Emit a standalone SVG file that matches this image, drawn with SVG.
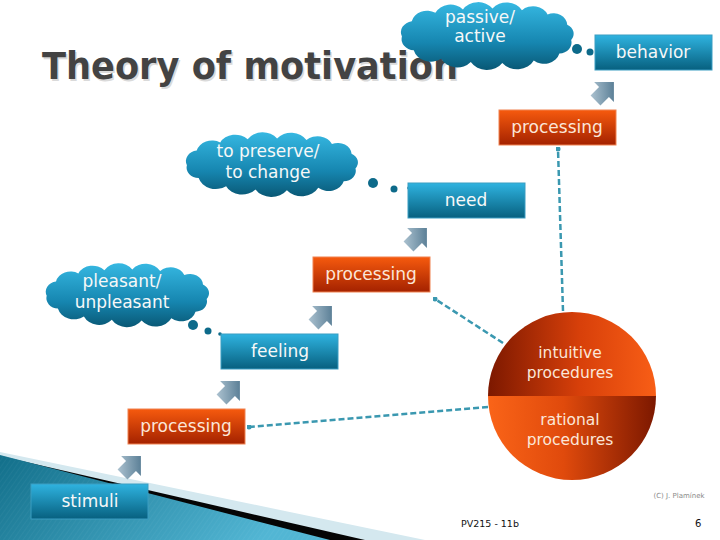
<svg xmlns="http://www.w3.org/2000/svg" width="720" height="540" viewBox="0 0 720 540">
<defs>
<linearGradient id="gBlue" x1="0" y1="0" x2="0" y2="1"><stop offset="0" stop-color="#2fb3e0"/><stop offset="1" stop-color="#07607f"/></linearGradient>
<linearGradient id="gOrange" x1="0" y1="0" x2="0" y2="1"><stop offset="0" stop-color="#f65a0e"/><stop offset="1" stop-color="#a42200"/></linearGradient>
<linearGradient id="gCloud" x1="0" y1="0" x2="0" y2="1"><stop offset="0" stop-color="#36b8e2"/><stop offset="0.6" stop-color="#1686b0"/><stop offset="1" stop-color="#095875"/></linearGradient>
<linearGradient id="gArrow" x1="0" y1="1" x2="1" y2="0"><stop offset="0" stop-color="#bccfdb"/><stop offset="1" stop-color="#3b6580"/></linearGradient>
<linearGradient id="gTop" x1="0" y1="0" x2="1" y2="0"><stop offset="0" stop-color="#7c1800"/><stop offset="0.55" stop-color="#d8400a"/><stop offset="1" stop-color="#f85e16"/></linearGradient>
<linearGradient id="gBot" x1="0" y1="0" x2="1" y2="0"><stop offset="0" stop-color="#fa6418"/><stop offset="0.45" stop-color="#e04a0c"/><stop offset="1" stop-color="#7c1800"/></linearGradient>
<linearGradient id="gBg" x1="0" y1="0" x2="1" y2="0.3"><stop offset="0" stop-color="#126f8a"/><stop offset="1" stop-color="#52b6d4"/></linearGradient>
<pattern id="stripes" width="4" height="4" patternUnits="userSpaceOnUse" patternTransform="rotate(35)"><line x1="0" y1="0" x2="0" y2="4" stroke="#ffffff" stroke-opacity="0.07" stroke-width="1"/></pattern>
<path id="cloud" d="M4,36 A13,13 0 0 1 14,18 A16,16 0 0 1 38,8 A17,17 0 0 1 66,4 A18,18 0 0 1 96,3 A18,18 0 0 1 126,5 A16,16 0 0 1 152,10 A14,14 0 0 1 172,22 A12,12 0 0 1 176,40 A13,13 0 0 1 164,56 A16,16 0 0 1 138,64 A19,19 0 0 1 106,67 A19,19 0 0 1 74,66 A18,18 0 0 1 44,62 A18,18 0 0 1 16,52 A13,13 0 0 1 4,36 Z"/>
<path id="arrow" d="M0,-14 L14,0 L7,0 L7,12 L-7,12 L-7,0 L-14,0 Z"/>
<marker id="dot" viewBox="0 0 6 6" refX="3" refY="3" markerWidth="5" markerHeight="5" markerUnits="userSpaceOnUse"><circle cx="3" cy="3" r="3" fill="#3a98b0"/></marker>
<style>
.box{stroke-width:1}
.blue{fill:url(#gBlue);stroke:#3b9dc2}
.orange{fill:url(#gOrange);stroke:#f08250}
.lbl{font-family:"DejaVu Sans",Verdana,sans-serif;font-size:17px;fill:#f6f8f8;text-anchor:middle}
.olbl{font-family:"DejaVu Sans",Verdana,sans-serif;font-size:17px;fill:#fbe6d8;text-anchor:middle}
.clbl{font-family:"DejaVu Sans",Verdana,sans-serif;font-size:15.5px;fill:#fbe6d8;text-anchor:middle}
.cloud{fill:url(#gCloud)}
.tdot{fill:#0d6a8a}
.arr{fill:url(#gArrow)}
.dash{fill:none;stroke:#3a98b0;stroke-width:2.5;stroke-dasharray:6 3;marker-end:url(#dot)}
.foot{font-family:"DejaVu Sans",Verdana,sans-serif;fill:#111}
</style>
</defs>
<rect width="720" height="540" fill="#ffffff"/>
<g id="background">
<polygon points="0,452 425,540 0,540" fill="#d4e8ef"/>
<polygon points="0,456 365,540 0,540" fill="#050505"/>
<polygon points="0,455 330,540 0,540" fill="url(#gBg)"/>
<polygon points="0,455 330,540 0,540" fill="url(#stripes)"/>
</g>
<g id="title">
<text x="43.5" y="80.5" font-family="'DejaVu Sans',Verdana,sans-serif" font-weight="bold" font-size="37" fill="#dadada" textLength="416" lengthAdjust="spacingAndGlyphs">Theory of motivation</text>
<text x="42" y="79" font-family="'DejaVu Sans',Verdana,sans-serif" font-weight="bold" font-size="37" fill="#434343" textLength="416" lengthAdjust="spacingAndGlyphs">Theory of motivation</text>
</g>
<g id="connectors">
<line class="dash" x1="563" y1="311" x2="558" y2="149"/>
<line class="dash" x1="503" y1="343" x2="435" y2="299"/>
<line class="dash" x1="488" y1="407" x2="249" y2="427"/>
</g>
<g id="cloud-passive">
<use href="#cloud" class="cloud" transform="translate(398,6) scale(0.984,0.85)"/>
<circle class="tdot" cx="577" cy="49" r="5"/><circle class="tdot" cx="590" cy="52" r="3.5"/><circle class="tdot" cx="597" cy="52" r="1.8"/>
<text class="lbl" x="480" y="23">passive/</text>
<text class="lbl" x="480" y="42">active</text>
</g>
<g id="behavior">
<rect class="box blue" x="595" y="35" width="117" height="35"/>
<text class="lbl" x="653" y="58">behavior</text>
</g>
<g id="arrow-behavior"><use href="#arrow" class="arr" transform="translate(604,92) rotate(45)"/></g>
<g id="processing-top">
<rect class="box orange" x="499" y="110" width="117" height="35"/>
<text class="olbl" x="557" y="133">processing</text>
</g>
<g id="cloud-preserve">
<use href="#cloud" class="cloud" transform="translate(183,136) scale(0.98,0.81)"/>
<circle class="tdot" cx="373" cy="183" r="5"/><circle class="tdot" cx="394" cy="189" r="3.5"/><circle class="tdot" cx="409" cy="188" r="1.8"/>
<text class="lbl" x="268" y="157">to preserve/</text>
<text class="lbl" x="268" y="178">to change</text>
</g>
<g id="need">
<rect class="box blue" x="408" y="183" width="117" height="35"/>
<text class="lbl" x="466" y="206">need</text>
</g>
<g id="arrow-need"><use href="#arrow" class="arr" transform="translate(417,238) rotate(45)"/></g>
<g id="processing-middle">
<rect class="box orange" x="313" y="257" width="117" height="35"/>
<text class="olbl" x="371" y="280">processing</text>
</g>
<g id="cloud-pleasant">
<use href="#cloud" class="cloud" transform="translate(43,267) scale(0.93,0.8)"/>
<circle class="tdot" cx="193" cy="325" r="5"/><circle class="tdot" cx="208" cy="331" r="3.5"/><circle class="tdot" cx="220" cy="334" r="1.8"/>
<text class="lbl" x="122" y="287">pleasant/</text>
<text class="lbl" x="122" y="308">unpleasant</text>
</g>
<g id="arrow-processing"><use href="#arrow" class="arr" transform="translate(322,316) rotate(45)"/></g>
<g id="feeling">
<rect class="box blue" x="221" y="334" width="117" height="35"/>
<text class="lbl" x="280" y="357">feeling</text>
</g>
<g id="arrow-feeling"><use href="#arrow" class="arr" transform="translate(230,391) rotate(45)"/></g>
<g id="processing-bottom">
<rect class="box orange" x="128" y="409" width="117" height="35"/>
<text class="olbl" x="186" y="432">processing</text>
</g>
<g id="arrow-stimuli"><use href="#arrow" class="arr" transform="translate(131,466) rotate(45)"/></g>
<g id="stimuli">
<rect class="box blue" x="31" y="484" width="117" height="35"/>
<text class="lbl" x="90" y="507">stimuli</text>
</g>
<g id="procedures">
<path d="M488,396 A84,84 0 0 1 656,396 Z" fill="url(#gTop)"/>
<path d="M488,396 A84,84 0 0 0 656,396 Z" fill="url(#gBot)"/>
<text class="clbl" x="570" y="358">intuitive</text>
<text class="clbl" x="570" y="378">procedures</text>
<text class="clbl" x="570" y="425">rational</text>
<text class="clbl" x="570" y="445">procedures</text>
</g>
<g id="footer">
<text class="foot" x="679" y="498" font-size="7" text-anchor="middle" style="fill:#8a8a8a">(C) J. Plamínek</text>
<text class="foot" x="461" y="527" font-size="9.5">PV215 - 11b</text>
<text class="foot" x="695" y="527" font-size="10">6</text>
</g>
</svg>
